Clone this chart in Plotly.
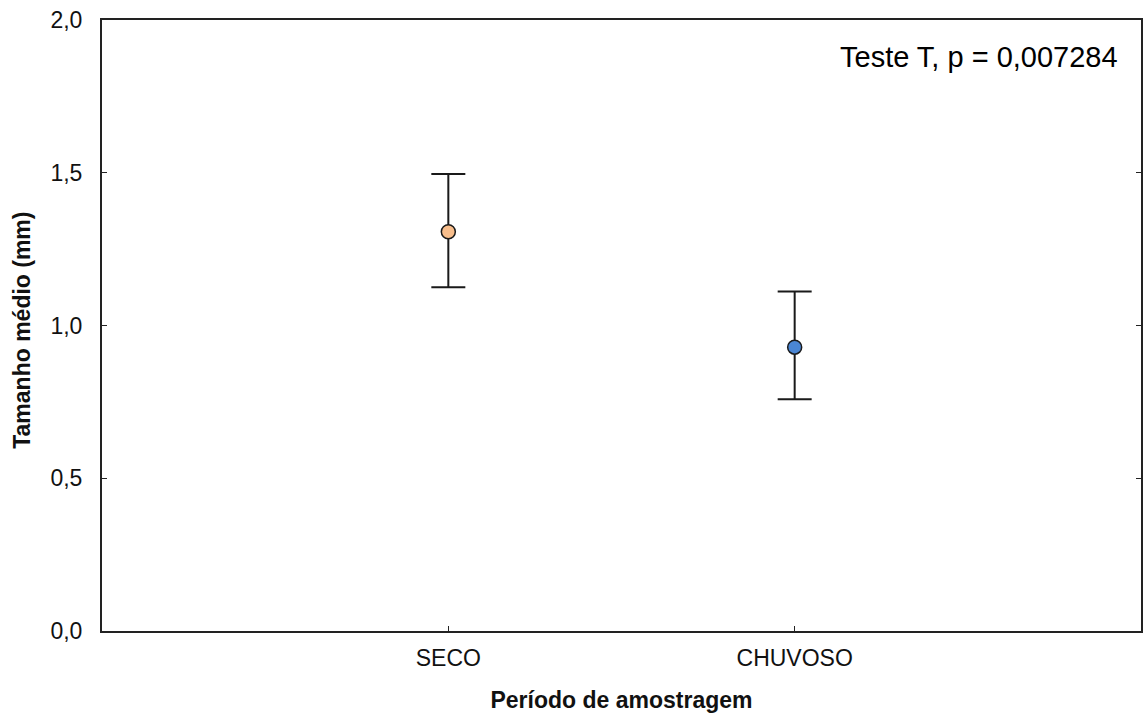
import plotly.graph_objects as go

categories = ["SECO", "CHUVOSO"]
cat_pos = [1, 2]
means = [1.307, 0.929]
upper = [1.496, 1.111]
lower = [1.125, 0.759]
colors = ["#F8BE8C", "#4A86D4"]
ytick_vals = [0.0, 0.5, 1.0, 1.5, 2.0]
ytick_text = ["0,0", "0,5", "1,0", "1,5", "2,0"]

fig = go.Figure()
for i in range(len(categories)):
    fig.add_trace(go.Scatter(
        x=[cat_pos[i]], y=[means[i]], mode="markers",
        marker=dict(size=14, color=colors[i], line=dict(color="#1a1a1a", width=1.5)),
        error_y=dict(type="data", symmetric=False,
                     array=[upper[i] - means[i]], arrayminus=[means[i] - lower[i]],
                     color="#1a1a1a", thickness=2, width=17),
        showlegend=False, cliponaxis=False,
    ))

fig.update_layout(
    width=1144, height=717,
    margin=dict(l=102, r=1, t=20, b=86),
    paper_bgcolor="white", plot_bgcolor="white",
    font=dict(family="Liberation Sans, Arial", size=23, color="#111"),
    xaxis=dict(range=[0, 3], tickvals=cat_pos, ticktext=categories,
               showgrid=False, zeroline=False, showline=True, linecolor="#222", linewidth=2,
               mirror=True, ticks="inside", ticklen=5, tickcolor="#222",
               ticklabelstandoff=5,
               title=dict(text="<b>Período de amostragem</b>", font=dict(size=23), standoff=22)),
    yaxis=dict(range=[0, 2], tickvals=ytick_vals, ticktext=ytick_text,
               showgrid=False, zeroline=False, showline=True, linecolor="#222", linewidth=2,
               mirror="allticks", ticks="inside", ticklen=5, tickcolor="#222",
               ticklabelstandoff=13),
    annotations=[
        dict(text="Teste T, p = 0,007284", xref="paper", yref="paper",
             x=0.98, y=0.939, xanchor="right", yanchor="middle",
             showarrow=False, font=dict(size=29, color="#000")),
        dict(text="<b>Tamanho médio (mm)</b>", xref="paper", yref="paper",
             x=-0.077, y=0.493, xanchor="center", yanchor="middle", textangle=-90,
             showarrow=False, font=dict(size=23, color="#111")),
    ],
)

fig.write_html("out.html", config={"displayModeBar": False},
               post_script="document.body.style.margin='0px';")
